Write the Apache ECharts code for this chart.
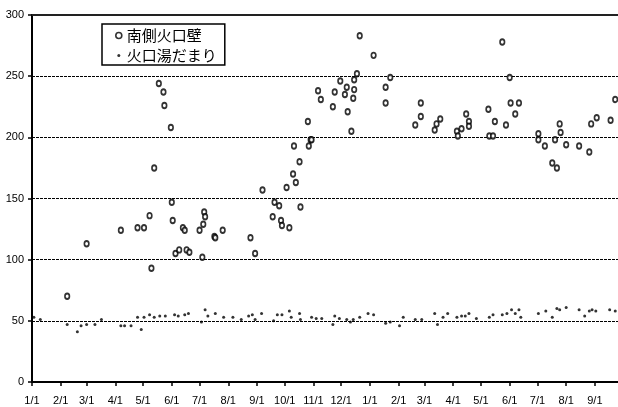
<!DOCTYPE html>
<html>
<head>
<meta charset="utf-8">
<script src="https://cdn.jsdelivr.net/npm/echarts@6/dist/echarts.min.js"></script>
<style>
html,body{margin:0;padding:0;background:#fff;}
#chart{width:618px;height:407px;}
</style>
</head>
<body>
<div id="chart"></div>
<script>
// Day offsets counted from the first 1/1 on the axis
var wallDays = [38,59,96,114,121,127,129,132,137,142,143,150,151,152,155,159,163,165,167,170,181,184,185,186,187,197,198,206,236,241,249,260,262,267,269,270,278,275,282,285,289,290,283,298,299,301,302,309,312,325,327,333,338,340,341,347,348,348,351,345,354,369,382,382,387,414,420,420,435,437,441,459,460,464,469,472,472,493,494,498,500,508,512,516,517,522,526,547,547,554,562,565,567,570,571,577,591,602,604,610,625,630];
var wallValues = [70,113,124,126,126,136,93,175,244,237,226,208,147,132,105,108,126,124,108,106,124,102,129,139,135,119,118,124,118,105,157,135,147,144,132,128,126,159,170,163,180,143,193,213,193,198,198,238,231,225,237,246,235,241,221,232,239,247,252,205,283,267,228,241,249,210,228,217,206,211,215,205,201,207,219,213,209,223,201,201,213,278,210,249,228,219,228,203,198,193,179,198,175,211,204,194,193,188,211,216,214,231];
var lakeDays = [2,9,38,49,53,59,68,75,96,100,107,114,118,121,127,132,138,144,154,158,165,169,183,187,190,198,207,217,226,234,238,241,248,261,265,270,278,280,289,290,302,307,313,325,327,332,340,344,347,354,363,369,382,387,397,401,414,421,435,438,444,449,459,464,468,472,480,494,498,508,513,518,522,526,528,547,555,562,567,570,577,591,597,602,605,609,624,630];
var lakeValues = [53,51,47,41,46,47,47,51,46,46,46,53,43,53,55,53,54,54,55,54,55,56,49,59,54,56,53,53,51,54,55,51,56,50,55,55,58,53,56,51,53,52,52,47,54,52,51,49,51,53,56,55,48,49,46,53,51,51,56,47,53,56,53,54,54,56,52,53,55,55,56,59,56,59,53,56,58,53,60,59,61,59,54,58,59,58,59,58];
var monthLabels = ['1/1','2/1','3/1','4/1','5/1','6/1','7/1','8/1','9/1','10/1','11/1','12/1','1/1','2/1','3/1','4/1','5/1','6/1','7/1','8/1','9/1'];
var seriesNames = ['南側火口壁','火口湯だまり'];
var yTicks = [0,50,100,150,200,250,300];

var base = Date.UTC(2001,0,1);
var tickDays = monthLabels.map(function(l,i){ return Math.round((Date.UTC(2001,i,1)-base)/86400000); });
function pairs(xs, ys){ return xs.map(function(x,i){ return [x, ys[i]]; }); }

var chart = echarts.init(document.getElementById('chart'), null, {renderer:'canvas'});
var font = 'Liberation Sans, Arial, sans-serif';
chart.setOption({
  animation:false,
  backgroundColor:'#fff',
  grid:{left:32, right:0, top:15, bottom:25},
  legend:{
    orient:'vertical', left:102, top:24,
    padding:[4,8,2,13], itemGap:5,
    borderColor:'#000', borderWidth:1.5,
    itemWidth:6, itemHeight:7,
    textStyle:{fontFamily:'Noto Sans CJK JP', fontSize:15, color:'#000'},
    data:[
      {name:seriesNames[0], icon:'circle', itemStyle:{color:'#fff', borderColor:'#000', borderWidth:1.6}},
      {name:seriesNames[1], icon:'path://M0,0M6,6M1.5,3a1.5,1.5 0 1,0 3,0a1.5,1.5 0 1,0 -3,0z', itemStyle:{color:'#000', borderWidth:0}}
    ]
  },
  xAxis:[{
    type:'value', min:0, max:633,
    axisLine:{lineStyle:{color:'#000', width:2}},
    axisTick:{show:true, customValues:tickDays, length:4, inside:false, lineStyle:{color:'#000', width:1.5}},
    axisLabel:{customValues:tickDays, margin:13, fontFamily:font, fontSize:11, color:'#000',
      formatter:function(v){ var i = tickDays.indexOf(Math.round(v)); return i>=0 ? monthLabels[i] : ''; }},
    splitLine:{show:false}
  },{
    type:'value', min:0, max:633, position:'top',
    axisLine:{show:true, lineStyle:{color:'#222', width:2}},
    axisTick:{show:false}, axisLabel:{show:false}, splitLine:{show:false}
  }],
  yAxis:{
    type:'value', min:yTicks[0], max:yTicks[yTicks.length-1], interval:50,
    axisLine:{show:true, lineStyle:{color:'#000', width:2}},
    axisTick:{show:true, length:4, lineStyle:{color:'#000', width:1.5}},
    axisLabel:{margin:8, fontFamily:font, fontSize:11, color:'#000'},
    splitLine:{show:true, lineStyle:{color:'#000', width:1, type:[3,1]}}
  },
  series:[
    {name:seriesNames[0], type:'scatter', data:pairs(wallDays, wallValues),
      symbol:'circle', symbolSize:[4.5,5.5],
      itemStyle:{color:'#fff', borderColor:'#000', borderWidth:1.8}, z:3},
    {name:seriesNames[1], type:'scatter', data:pairs(lakeDays, lakeValues),
      symbol:'circle', symbolSize:3,
      itemStyle:{color:'#000'}, z:2}
  ]
});
</script>
</body>
</html>
